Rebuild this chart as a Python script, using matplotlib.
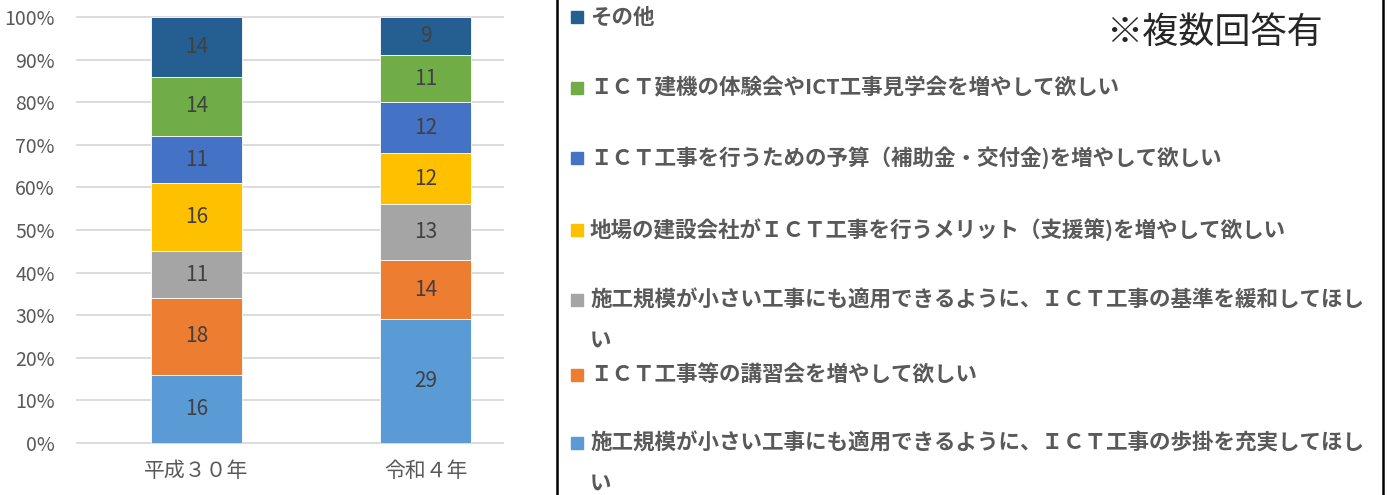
import matplotlib
matplotlib.use('Agg')
import matplotlib.pyplot as plt
from matplotlib.lines import Line2D
from matplotlib.patches import Rectangle

plt.rcParams['font.family'] = ['Noto Sans CJK JP', 'DejaVu Sans']

# データ（下から積み上げ順）
years = ['平成３０年', '令和４年']
series = ['施工規模が小さい工事にも適用できるように、ＩＣＴ工事の歩掛を充実してほしい',
          'ＩＣＴ工事等の講習会を増やして欲しい',
          '施工規模が小さい工事にも適用できるように、ＩＣＴ工事の基準を緩和してほしい',
          '地場の建設会社がＩＣＴ工事を行うメリット（支援策)を増やして欲しい',
          'ＩＣＴ工事を行うための予算（補助金・交付金)を増やして欲しい',
          'ＩＣＴ建機の体験会やICT工事見学会を増やして欲しい',
          'その他']
h30 = [16, 18, 11, 16, 11, 14, 14]
r4 = [29, 14, 13, 12, 12, 11, 9]
colors = ['#5b9bd5', '#ed7d31', '#a5a5a5', '#ffc000', '#4472c4', '#70ad47', '#255e91']

W, H = 1387, 495
fig = plt.figure(figsize=(W / 100, H / 100), dpi=100)
ax = fig.add_axes([77 / W, 1 - 443 / H, 426 / W, 426 / H])

x = range(len(years))
bottom = [0, 0]
for i in range(len(series)):
    vals = [h30[i], r4[i]]
    bars = ax.bar(x, vals, 0.397, bottom=bottom, color=colors[i],
                  edgecolor='white', linewidth=0.6, zorder=3)
    ax.bar_label(bars, labels=[str(v) for v in vals], label_type='center',
                 fontsize=15, color='#404040')
    bottom = [b + v for b, v in zip(bottom, vals)]

ax.set_xlim(-0.522, 1.338)
ax.set_ylim(0, 100)
ax.set_yticks(range(0, 101, 10))
ax.set_yticklabels([f'{v}%' for v in range(0, 101, 10)])
ax.set_xticks(list(x))
ax.set_xticklabels(years)
ax.tick_params(axis='y', length=0, pad=16, labelsize=14, labelcolor='#595959')
ax.tick_params(axis='x', length=0, pad=12, labelsize=15, labelcolor='#595959')
ax.grid(axis='y', color='#d9d9d9', linewidth=1.3, zorder=0)
for gl in ax.get_ygridlines():
    gl.set_clip_on(False)
for s in ax.spines.values():
    s.set_visible(False)

# 凡例（上から「その他」）
legend_y = [17, 88, 158, 230, 300, 375, 443]
wrap = 36
for name, col, yy in zip(series[::-1], colors[::-1], legend_y):
    fig.add_artist(Rectangle((571 / W, 1 - (yy + 6) / H), 12 / W, 12 / H,
                             transform=fig.transFigure, color=col))
    lines = [name[:wrap], name[wrap:]] if len(name) > wrap else [name]
    for k, ln in enumerate(lines):
        fig.text(590 / W, 1 - (yy + 40 * k) / H, ln, fontsize=15.5, fontweight='bold',
                 color='#595959', va='center', ha='left')

fig.text(1106 / W, 1 - 33 / H, '※複数回答有', fontsize=26, color='#262626',
         va='center', ha='left')

fig.add_artist(Line2D([557 / W, 557 / W], [0, 1], color='black', linewidth=1.8,
                      transform=fig.transFigure))
fig.add_artist(Line2D([1383 / W, 1383 / W], [0, 1], color='black', linewidth=1.8,
                      transform=fig.transFigure))

fig.savefig('out.png', dpi=100)
